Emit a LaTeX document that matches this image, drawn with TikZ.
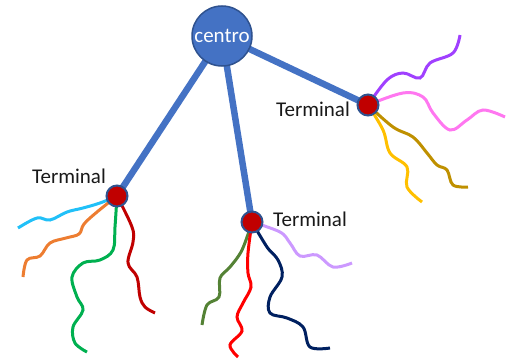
\documentclass[tikz,border=0pt]{standalone}
\usepackage{fontspec}
\setmainfont{Carlito}
\begin{document}
\begin{tikzpicture}[x=1pt,y=-1pt,
  hub/.style={circle,fill=hubblue,draw=hubedge,line width=1.5pt,minimum size=60pt,inner sep=0pt,text=white,font=\fontsize{21}{25}\selectfont},
  term/.style={circle,fill=termred,draw=hubedge,line width=2pt,minimum size=21pt,inner sep=0pt},
  trunk/.style={draw=hubblue,line width=6.5pt},
  wire/.style={line width=3pt,smooth,tension=0.6},
  lbl/.style={anchor=base west,inner sep=0pt,font=\fontsize{21}{25}\selectfont,text=black!90}]
\definecolor{hubblue}{HTML}{4472C4}
\definecolor{hubedge}{HTML}{2F528F}
\definecolor{termred}{HTML}{C00000}
\useasboundingbox (0,0) rectangle (506,361);
\coordinate (cc) at (222,36);
\coordinate (c1) at (117,196);
\coordinate (c2) at (252,222);
\coordinate (c3) at (368,105);
% trunks
\draw[trunk] (cc) -- (c1);
\draw[trunk] (cc) -- (c2);
\draw[trunk] (cc) -- (c3);
% wires left terminal
\draw[wire,color={rgb,255:red,33;green,192;blue,248}] plot coordinates {(c1) (100,203) (83,208) (67,212) (50,220) (37,218) (18,228)};
\draw[wire,color={rgb,255:red,237;green,125;blue,49}] plot coordinates {(c1) (97,212) (84,224) (79,234) (66,238) (50,243) (40,256) (27,260) (23,277)};
\draw[wire,color={rgb,255:red,0;green,176;blue,80}] plot coordinates {(c1) (115,227) (113,250) (100,260) (83,263) (72,277) (77,297) (83,310) (73,327) (75,343) (87,352)};
\draw[wire,color={rgb,255:red,192;green,0;blue,0}] plot coordinates {(c1) (132,227) (133,242) (128,263) (137,277) (140,297) (145,307) (155,313)};
% wires middle terminal
\draw[wire,color={rgb,255:red,84;green,130;blue,53}] plot coordinates {(c2) (242,250) (230,267) (220,278) (219,297) (207,305) (202,325)};
\draw[wire,color={rgb,255:red,255;green,0;blue,0}] plot coordinates {(c2) (248,253) (248,273) (251,287) (243,303) (237,317) (242,331) (230,345) (238,357)};
\draw[wire,color={rgb,255:red,0;green,32;blue,96}] plot coordinates {(c2) (267,247) (278,260) (282,277) (270,297) (270,313) (287,318) (303,327) (310,347) (330,348)};
\draw[wire,color={rgb,255:red,204;green,153;blue,255}] plot coordinates {(c2) (280,232) (290,243) (300,256) (317,255) (333,267) (352,263)};
% wires right terminal
\draw[wire,color={rgb,255:red,160;green,64;blue,255}] plot coordinates {(c3) (387,80) (403,73) (420,78) (430,63) (453,53) (460,35)};
\draw[wire,color={rgb,255:red,255;green,119;blue,240}] plot coordinates {(c3) (403,93) (423,97) (433,113) (450,130) (467,120) (483,110) (505,117)};
\draw[wire,color={rgb,255:red,191;green,144;blue,0}] plot coordinates {(c3) (393,127) (413,137) (427,153) (437,165) (447,170) (453,185) (468,187)};
\draw[wire,color={rgb,255:red,255;green,192;blue,0}] plot coordinates {(c3) (383,130) (390,153) (407,167) (407,187) (422,202)};
% nodes
\node[hub] (centro) at (cc) {centro};
\node[term] (t1) at (c1) {};
\node[term] (t2) at (c2) {};
\node[term] (t3) at (c3) {};
\node[lbl] (l1) at (32,183) {Terminal};
\node[lbl] (l2) at (273,226) {Terminal};
\node[lbl] (l3) at (276,116) {Terminal};
\end{tikzpicture}
\end{document}
